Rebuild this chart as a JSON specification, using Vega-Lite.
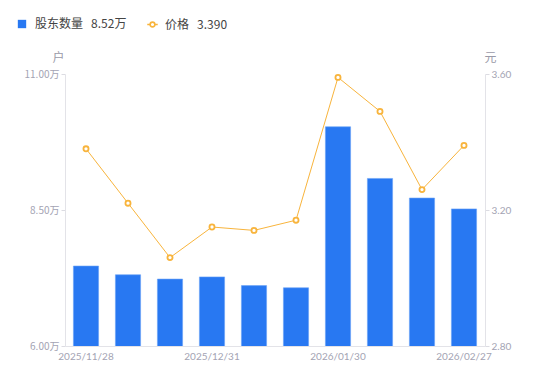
{
  "$schema": "https://vega.github.io/schema/vega-lite/v6.json",
  "width": 420,
  "height": 272,
  "autosize": {"type": "none"},
  "padding": {"left": 65, "top": 74, "right": 65, "bottom": 35},
  "background": "white",
  "config": {
    "view": {"stroke": null},
    "font": "Noto Sans CJK SC",
    "axis": {"labelFont": "Lato", "grid": false}
  },
  "data": {
    "values": [
      {"date": "2025/11/28", "holders": 7.47, "price": 3.38},
      {"date": "2025/12/10", "holders": 7.31, "price": 3.22},
      {"date": "2025/12/19", "holders": 7.23, "price": 3.06},
      {"date": "2025/12/31", "holders": 7.27, "price": 3.15},
      {"date": "2026/01/09", "holders": 7.11, "price": 3.14},
      {"date": "2026/01/20", "holders": 7.07, "price": 3.17},
      {"date": "2026/01/30", "holders": 10.03, "price": 3.59},
      {"date": "2026/02/06", "holders": 9.08, "price": 3.49},
      {"date": "2026/02/13", "holders": 8.72, "price": 3.26},
      {"date": "2026/02/27", "holders": 8.52, "price": 3.39}
    ]
  },
  "encoding": {
    "x": {
      "field": "date",
      "type": "ordinal",
      "sort": null,
      "scale": {"paddingInner": 0.4, "paddingOuter": 0.2},
      "axis": {
        "title": null,
        "values": ["2025/11/28", "2025/12/31", "2026/01/30", "2026/02/27"],
        "labelAngle": 0,
        "labelColor": "#a3a3b3",
        "labelFontSize": 10,
        "labelPadding": 5,
        "ticks": false,
        "domainColor": "#e3e3e8",
        "labelOverlap": false
      }
    }
  },
  "layer": [
    {
      "mark": {"type": "bar", "stroke": "#6aa2f7", "strokeWidth": 0.6, "clip": true},
      "encoding": {
        "y": {
          "field": "holders",
          "type": "quantitative",
          "scale": {"domain": [6, 11], "nice": false, "zero": false},
          "axis": {
            "values": [6, 8.5, 11],
            "labelExpr": "format(datum.value, '.2f') + '万'",
            "labelColor": "#a3a3b3",
            "labelFontSize": 10,
            "labelFont": "Noto Sans CJK SC",
            "tickSize": 4,
            "tickColor": "#dcdce2",
            "domainColor": "#e3e3e8",
            "labelPadding": 2,
            "title": "户",
            "titleAngle": 0,
            "titleX": -7,
            "titleY": -17,
            "titleAlign": "center",
            "titleBaseline": "middle",
            "titleColor": "#9a9aa8",
            "titleFontSize": 12,
            "titleFontWeight": "normal"
          }
        },
        "fill": {
          "datum": "股东数量",
          "scale": {"range": ["#2878f2"]},
          "legend": {
            "orient": "none",
            "legendX": -49,
            "legendY": -56,
            "title": null,
            "symbolType": "square",
            "symbolSize": 70,
            "symbolStrokeWidth": 0,
            "labelOffset": 7,
            "labelExpr": "datum.label + '\u00a0\u00a0\u00a08.52万'",
            "labelColor": "#444",
            "labelFontSize": 12,
            "labelFont": "Noto Sans CJK SC"
          }
        }
      }
    },
    {
      "mark": {"type": "line", "strokeWidth": 1},
      "encoding": {
        "y": {
          "field": "price",
          "type": "quantitative",
          "scale": {"domain": [2.8, 3.6], "nice": false, "zero": false},
          "axis": {
            "orient": "right",
            "values": [2.8, 3.2, 3.6],
            "format": ".2f",
            "labelColor": "#a3a3b3",
            "labelFontSize": 10,
            "tickSize": 4,
            "tickColor": "#dcdce2",
            "domainColor": "#e3e3e8",
            "labelPadding": 2,
            "title": "元",
            "titleAngle": 0,
            "titleX": 5,
            "titleY": -17,
            "titleAlign": "center",
            "titleBaseline": "middle",
            "titleColor": "#9a9aa8",
            "titleFontSize": 12,
            "titleFontWeight": "normal"
          }
        },
        "stroke": {
          "datum": "价格",
          "scale": {"range": ["#f8b43c"]},
          "legend": {
            "orient": "none",
            "legendX": 81,
            "legendY": -56,
            "title": null,
            "symbolType": "M-1,0H-0.45M0.45,0H1M-0.45,0A0.45,0.45 0 1,0 0.45,0A0.45,0.45 0 1,0 -0.45,0",
            "symbolSize": 110,
            "symbolStrokeWidth": 1.6,
            "symbolFillColor": "white",
            "labelOffset": 6,
            "labelExpr": "datum.label + '\u00a0\u00a0\u00a03.390'",
            "labelColor": "#444",
            "labelFontSize": 12,
            "labelFont": "Noto Sans CJK SC"
          }
        }
      }
    },
    {
      "mark": {"type": "point", "filled": true, "fill": "white", "strokeWidth": 1.8, "size": 26, "opacity": 1},
      "encoding": {
        "y": {"field": "price", "type": "quantitative", "scale": {"domain": [2.8, 3.6], "nice": false, "zero": false}, "axis": null},
        "stroke": {"datum": "价格"}
      }
    }
  ],
  "resolve": {"scale": {"y": "independent"}}
}
